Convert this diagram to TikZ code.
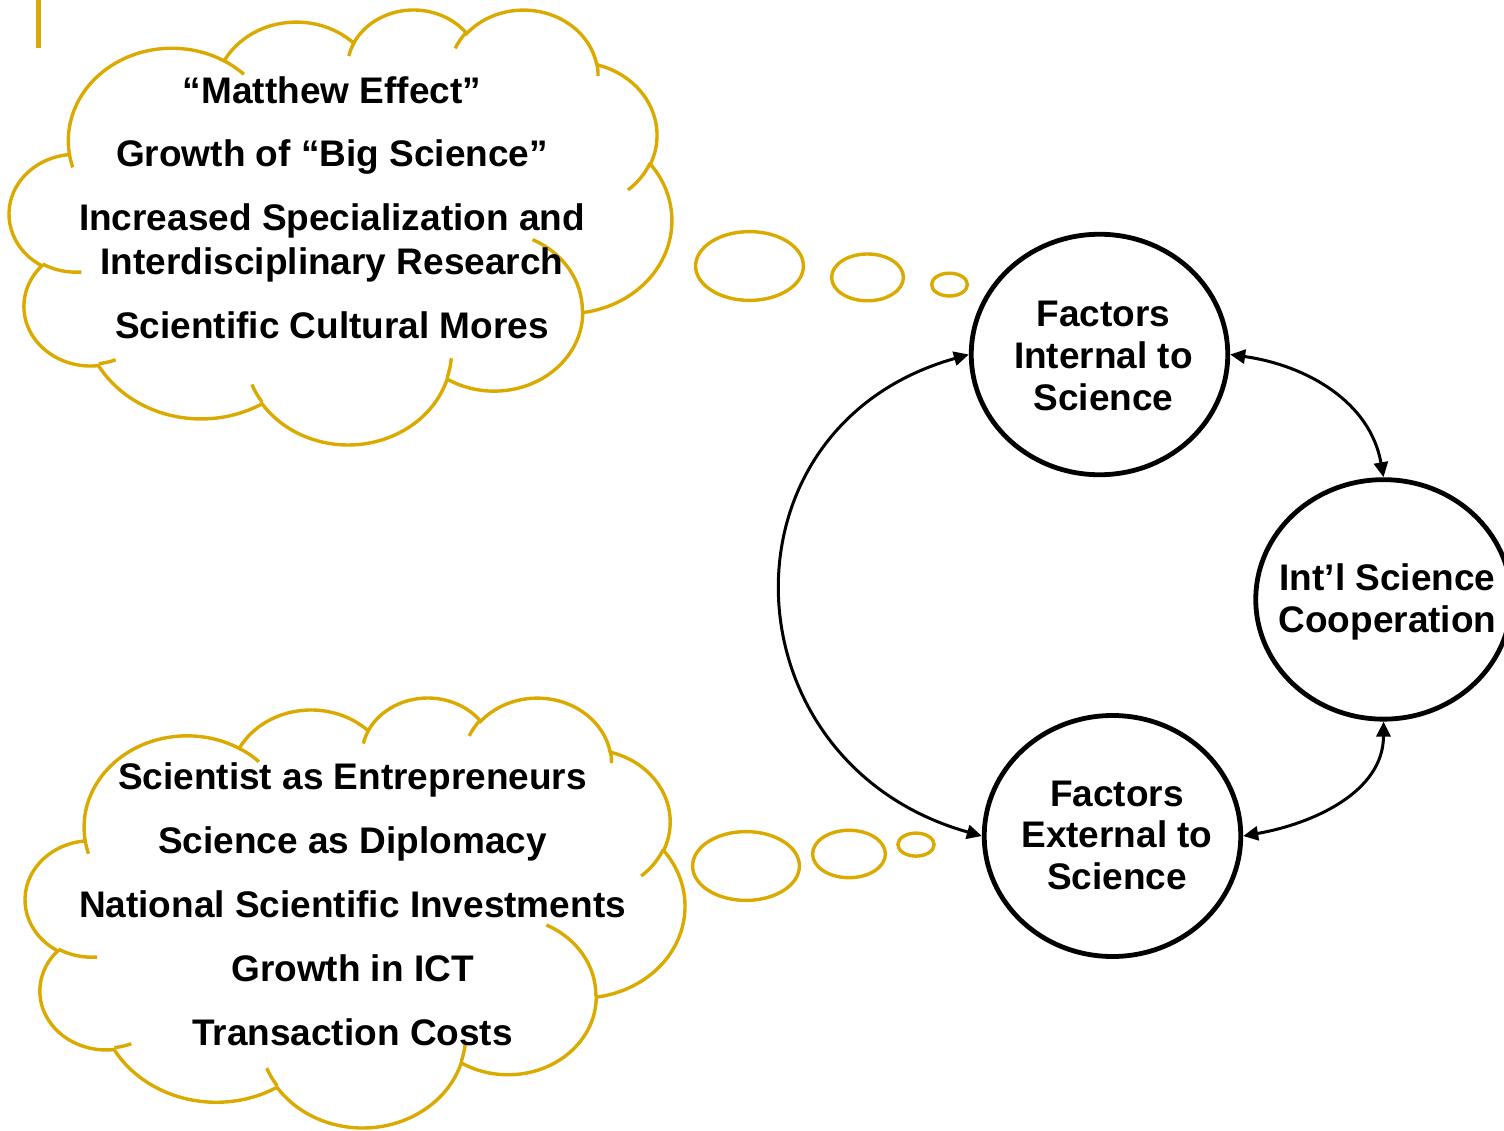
\documentclass[tikz,border=0pt]{standalone}
\usepackage{fontspec}
\setmainfont{Liberation Sans}
\usetikzlibrary{arrows.meta,shapes.geometric}
\definecolor{gold}{RGB}{218,170,0}
\newcommand{\thoughtcloud}[4]{%
\begin{scope}[shift={(#1,#2)}, xscale=#3, yscale=#4]
\filldraw[cloudline, fill=white] (39.00,143.70)
  arc[start angle=172.254, end angle=300.36, x radius=67.53, y radius=91.90]
  arc[start angle=-152.017, end angle=-45.43, x radius=53.33, y radius=72.67]
  arc[start angle=-153.496, end angle=-37.31, x radius=43.65, y radius=59.45]
  arc[start angle=-139.715, end angle=-10.211, x radius=48.57, y radius=65.95]
  arc[start angle=-74.77, end angle=23.209, x radius=53.33, y radius=72.73]
  arc[start angle=-37.53, end angle=81.862, x radius=67.75, y radius=92.20]
  arc[start angle=0.4596, end angle=121.98, x radius=57.85, y radius=78.67]
  arc[start angle=16.844, end angle=146.23, x radius=67.52, y radius=92.15]
  arc[start angle=58.99, end angle=150.18, x radius=77.20, y radius=105.43]
  arc[start angle=83.307, end angle=223.09, x radius=43.60, y radius=59.18]
  arc[start angle=120.36, end angle=264.11, x radius=43.45, y radius=59.45]
  -- cycle;
\draw[cloudline]
  (46.93,261.77) arc[start angle=85.546, end angle=120.36, x radius=43.45, y radius=59.45]
  (69.28,348.99) arc[start angle=68.24, end angle=83.307, x radius=43.60, y radius=59.18]
  (164.78,390.90) arc[start angle=146.23, end angle=158.474, x radius=67.52, y radius=92.15]
  (288.27,347.51) arc[start angle=4.738, end angle=16.844, x radius=67.52, y radius=92.15]
  (341.29,229.54) arc[start angle=-64.03, end angle=0.4596, x radius=57.85, y radius=78.67]
  (417.98,153.54) arc[start angle=23.209, end angle=49.65, x radius=53.33, y radius=72.73]
  (383.24,54.26) arc[start angle=-10.211, end angle=0.821, x radius=48.57, y radius=65.95]
  (290.78,39.52) arc[start angle=-156.277, end angle=-139.715, x radius=48.57, y radius=65.95]
  (221.41,47.20) arc[start angle=-167.726, end angle=-153.496, x radius=43.65, y radius=59.45]
  (140.00,51.92) arc[start angle=-59.64, end angle=-45.74, x radius=67.53, y radius=91.90]
  (41.27,157.89) arc[start angle=163.197, end angle=172.254, x radius=67.53, y radius=91.90];
\end{scope}}
\begin{document}
\begin{tikzpicture}[x=1pt,y=1pt,
  cloudline/.style={draw=gold, line width=3.4pt},
  bubble/.style={draw=gold, line width=3.4pt, fill=white},
  factor/.style={ellipse, draw=black, line width=4.8pt, inner sep=0pt, fill=white},
  lbl/.style={anchor=base, inner sep=0pt, font=\bfseries\fontsize{37}{42}\selectfont},
  link/.style={line width=3pt, {Triangle[length=15pt,width=14pt]}-{Triangle[length=15pt,width=14pt]}}]
\useasboundingbox (0,0) rectangle (1504,-1131);
\fill[white] (0,0) rectangle (1504,-1131);
% small bar at top left
\draw[gold, line width=5pt] (38.8,0) -- (38.8,-48);
% clouds
\thoughtcloud{9.5}{-8.56}{1.53264}{-1.00648}
\thoughtcloud{25.5}{-696.6}{1.52593}{-0.99491}
% bubbles
\draw[bubble] (749.5,-266) ellipse[x radius=53.9, y radius=34.4];
\draw[bubble] (867.5,-277.4) ellipse[x radius=35.9, y radius=23.4];
\draw[bubble] (949.5,-284.6) ellipse[x radius=17.9, y radius=11.4];
\draw[bubble] (746,-866) ellipse[x radius=53.4, y radius=34.4];
\draw[bubble] (849,-854) ellipse[x radius=36.4, y radius=23.7];
\draw[bubble] (916,-844.6) ellipse[x radius=18.1, y radius=11.5];
% cloud texts
\node[lbl] (t1) at (332,-104) {“Matthew Effect”};
\node[lbl] (t2) at (332,-167) {Growth of “Big Science”};
\node[lbl] (t3) at (332,-231) {Increased Specialization and};
\node[lbl] (t4) at (332,-275) {Interdisciplinary Research};
\node[lbl] (t5) at (332,-338) {Scientific Cultural Mores};
\node[lbl] (b1) at (352.5,-789.3) {Scientist as Entrepreneurs};
\node[lbl] (b2) at (352.5,-853.3) {Science as Diplomacy};
\node[lbl] (b3) at (352.5,-917.3) {National Scientific Investments};
\node[lbl] (b4) at (352.5,-981.7) {Growth in ICT};
\node[lbl] (b5) at (352.5,-1045) {Transaction Costs};
% factor circles
\node[factor, minimum width=256.5pt, minimum height=240.5pt] (int) at (1099.5,-354.5) {};
\node[factor, minimum width=255.5pt, minimum height=239.5pt] (coop) at (1383.5,-599.4) {};
\node[factor, minimum width=256.5pt, minimum height=241pt] (ext) at (1112.5,-836) {};
\node[lbl] (int1) at (1103.5,-326.2) {Factors};
\node[lbl] (int2) at (1103.5,-368.3) {Internal to};
\node[lbl] (int3) at (1103.5,-410.4) {Science};
\node[lbl] (coop1) at (1387.5,-590.8) {Int’l Science};
\node[lbl] (coop2) at (1387.5,-632.4) {Cooperation};
\node[lbl] (ext1) at (1117,-806.1) {Factors};
\node[lbl] (ext2) at (1117,-847.8) {External to};
\node[lbl] (ext3) at (1117,-889.9) {Science};
% connectors
\draw[link] (int.west) .. controls +(-258,-72.6) and +(-258,72.6) .. (ext.west);
\draw[link] (int.east) to[out=-8,in=100] (coop.north);
\draw[link] (ext.east) to[out=10,in=-90] (coop.south);
\end{tikzpicture}
\end{document}
